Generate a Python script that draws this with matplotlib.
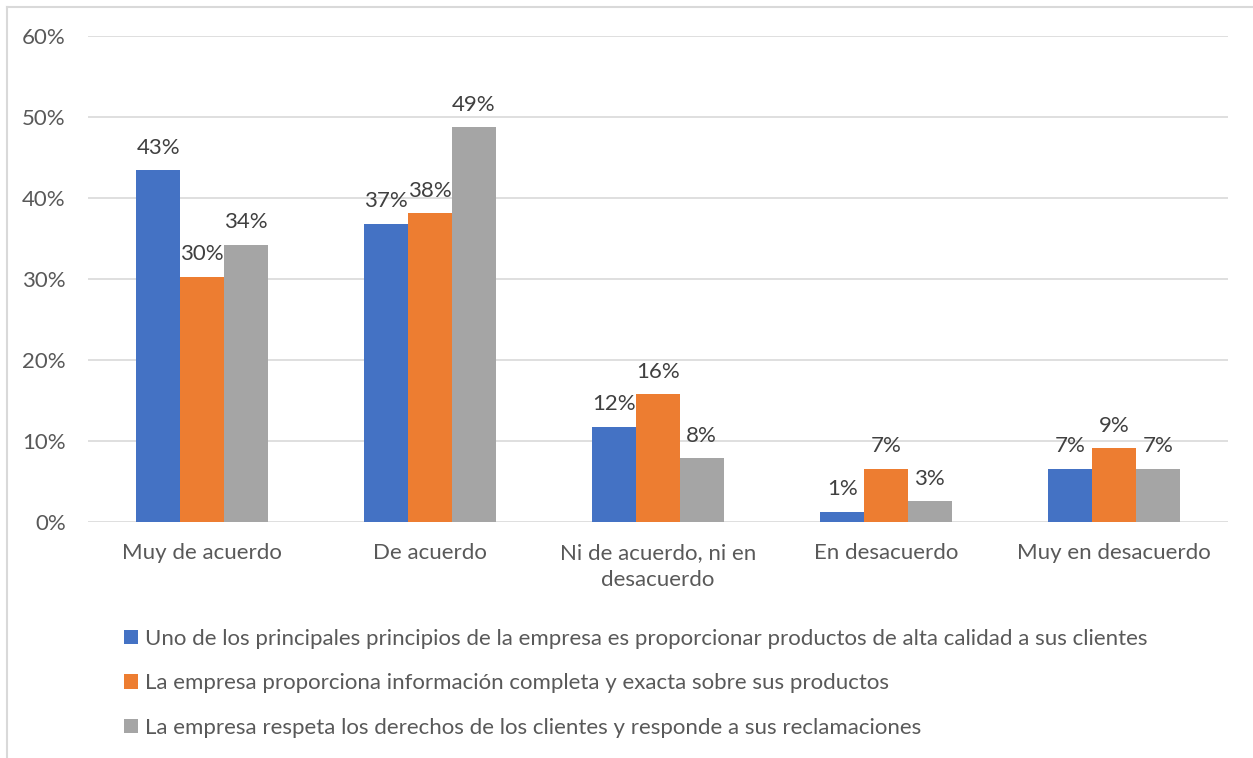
import numpy as np
import matplotlib
matplotlib.use("Agg")
import matplotlib.pyplot as plt
from matplotlib.patches import Patch
from matplotlib.lines import Line2D

categories = ["Muy de acuerdo", "De acuerdo", "Ni de acuerdo, ni en\ndesacuerdo",
              "En desacuerdo", "Muy en desacuerdo"]
series_names = [
    "Uno de los principales principios de la empresa es proporcionar productos de alta calidad a sus clientes",
    "La empresa proporciona información completa y exacta sobre sus productos",
    "La empresa respeta los derechos de los clientes y responde a sus reclamaciones",
]
calidad = [43.4, 36.8, 11.8, 1.3, 6.6]
informacion = [30.3, 38.1, 15.8, 6.6, 9.1]
derechos = [34.2, 48.7, 7.9, 2.6, 6.6]
colors = ["#4472C4", "#ED7D31", "#A5A5A5"]

plt.rcParams["font.family"] = ["Lato", "DejaVu Sans"]
text_color = "#595959"
fs = 16

fig = plt.figure(figsize=(12.53, 7.58), dpi=100)
ax = fig.add_axes([88/1253, 1 - 522.3/758, (1228-88)/1253, (522.3-35.7)/758])

x = np.arange(len(categories))
w = 0.192
for i, (vals, c) in enumerate(zip([calidad, informacion, derechos], colors)):
    pos = x + (i - 1) * w
    ax.bar(pos, vals, width=w, color=c, zorder=3)
    for px, v in zip(pos, vals):
        ax.annotate(f"{v:.0f}%", (px, v), xytext=(0, 9), textcoords="offset points",
                    ha="center", va="bottom", fontsize=fs, color="#404040")

ax.set_xlim(-0.5, len(categories) - 0.5)
ax.set_ylim(0, 60)
ax.set_yticks(range(0, 61, 10))
ax.set_yticklabels([f"{t}%" for t in range(0, 61, 10)])
ax.set_xticks(x)
ax.set_xticklabels(categories)
ax.grid(axis="y", color="#D9D9D9", linewidth=1.2, zorder=0)
for s in ax.spines.values():
    s.set_visible(False)
ax.tick_params(length=0, labelsize=fs, colors=text_color, pad=15)
ax.tick_params(axis="y", pad=16)
for lbl in ax.get_xticklabels():
    lbl.set_linespacing(1.45)

handles = [Patch(facecolor=c, edgecolor="none") for c in colors]
fig.legend(handles, series_names, loc="upper left", bbox_to_anchor=(104/1253, 1 - 609/758),
           frameon=False, fontsize=fs, labelcolor=text_color, handlelength=0.63,
           handleheight=0.63, handletextpad=0.3, labelspacing=1.1)

# chart border
fig.add_artist(Line2D([7/1253, 7/1253], [0, 1 - 7/758], color="#D9D9D9", lw=1.5))
fig.add_artist(Line2D([7/1253, 1], [1 - 7/758, 1 - 7/758], color="#D9D9D9", lw=1.5))

fig.savefig("out.png", dpi=100)
